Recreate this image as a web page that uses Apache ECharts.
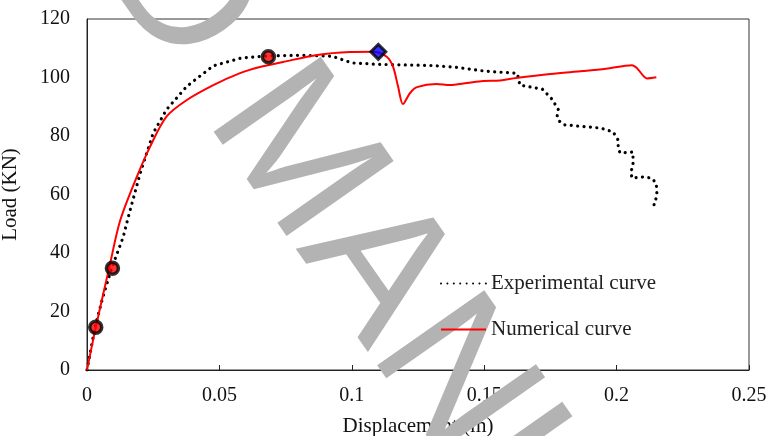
<!DOCTYPE html>
<html>
<head>
<meta charset="utf-8">
<script src="https://cdn.jsdelivr.net/npm/echarts@6/dist/echarts.min.js"></script>
<style>
  html, body { margin: 0; padding: 0; background: #fff; }
  #chart { width: 769px; height: 436px; }
</style>
</head>
<body>
<div id="chart"></div>
<script>
// Load–displacement response: test record vs. finite element model
const xTicks = [0, 0.05, 0.1, 0.15, 0.2, 0.25];
const yTicks = [0, 20, 40, 60, 80, 100, 120];

const expDisp = [0, 0.003, 0.006, 0.0093, 0.0137, 0.0155, 0.020, 0.025, 0.030, 0.0377, 0.0477, 0.058, 0.0685,
  0.08, 0.0925, 0.1, 0.11, 0.13, 0.14, 0.15, 0.1625, 0.1635, 0.172, 0.1756, 0.178, 0.1775, 0.1787, 0.1805,
  0.194, 0.1987, 0.2006, 0.2006, 0.2013, 0.2062, 0.2062, 0.2062, 0.2054, 0.2058, 0.21, 0.2133, 0.2149,
  0.2152, 0.2152, 0.214, 0.2145];
const expLoad = [0, 14.5, 25, 34.8, 45.5, 52, 67, 81, 89, 97, 104, 106.6, 107.4,
  107.6, 107.3, 105, 104.5, 104.1, 103.4, 102.2, 101.4, 97.4, 96, 92.6, 89, 86.5, 84.7, 83.8,
  82.7, 81.4, 78.6, 75.9, 74.2, 74.5, 72.5, 70, 67.7, 65.6, 66, 65.6, 63.9,
  61.5, 59.1, 57.2, 55];

const numDisp = [0, 0.0033, 0.0084, 0.0125, 0.0188, 0.0238, 0.030, 0.0377, 0.0477, 0.0578, 0.0653, 0.074,
  0.0869, 0.0993, 0.108, 0.1133, 0.1156, 0.1175, 0.1193, 0.122, 0.1246, 0.132, 0.137, 0.1435, 0.1496,
  0.156, 0.162, 0.175, 0.1873, 0.196, 0.2058, 0.2077, 0.2115, 0.215];
const numLoad = [0, 14.5, 35, 51, 66, 76.3, 86.6, 92.3, 97.4, 101.5, 103.6, 105.3,
  107.7, 108.7, 108.8, 107, 103.6, 96.8, 90.9, 94.7, 96.7, 97.8, 97.4, 98.1, 98.8,
  99, 99.8, 101.2, 102.2, 103, 104.2, 103.2, 99.7, 100.1];

// highlighted states on the curves
const circleDisp = [0.0033, 0.0096, 0.0685];
const circleLoad = [14.6, 34.8, 107.1];
const peakDisp = [0.110];
const peakLoad = [108.8];

const zip = (a, b) => a.map((v, i) => [v, b[i]]);
const serif = '"Liberation Serif", "Times New Roman", serif';

const chart = echarts.init(document.getElementById('chart'), null, { renderer: 'canvas' });
chart.setOption({
  animation: false,
  backgroundColor: '#fff',
  grid: { left: 87, right: 20, top: 19, bottom: 66, show: true, borderColor: '#333', borderWidth: 1,
    containLabel: false, outerBoundsMode: 'none' },
  xAxis: {
    type: 'value', min: xTicks[0], max: xTicks[xTicks.length - 1], interval: 0.05,
    name: 'Displacement (m)', nameLocation: 'middle', nameGap: 46,
    nameTextStyle: { fontFamily: serif, fontSize: 21, color: '#111' },
    axisLine: { lineStyle: { color: '#222', width: 1 } },
    axisTick: { inside: true, length: 5, lineStyle: { color: '#222' } },
    axisLabel: { fontFamily: serif, fontSize: 20, color: '#111', margin: 16,
      formatter: v => xTicks.includes(+v.toFixed(2)) ? String(+v.toFixed(2)) : '' },
    splitLine: { show: false }
  },
  yAxis: {
    type: 'value', min: yTicks[0], max: yTicks[yTicks.length - 1], interval: 20,
    name: 'Load (KN)', nameLocation: 'middle', nameGap: 66, nameRotate: 90,
    nameTextStyle: { fontFamily: serif, fontSize: 21, color: '#111' },
    axisLine: { show: true, lineStyle: { color: '#222', width: 1 } },
    axisTick: { show: false },
    axisLabel: { fontFamily: serif, fontSize: 20, color: '#111', margin: 17 },
    splitLine: { show: false }
  },
  legend: {
    orient: 'vertical', left: 435, top: 268, itemWidth: 45, itemHeight: 14, itemGap: 25,
    textStyle: { fontFamily: serif, fontSize: 21, color: '#222' },
    itemStyle: { opacity: 0 },
    data: ['Experimental curve', 'Numerical curve']
  },
  graphic: [{
    type: 'text', z: 1, zlevel: 0, silent: true,
    x: 296, y: 158, rotation: -55 * Math.PI / 180,
    style: {
      text: 'ACCEPTED MANUSCRIPT', fill: '#b3b3b3',
      font: '190px "Liberation Sans", Arial, sans-serif',
      align: 'center', verticalAlign: 'middle'
    }
  }],
  series: [
    {
      name: 'Experimental curve', type: 'line', data: zip(expDisp, expLoad), z: 3,
      symbol: 'none', smooth: false,
      lineStyle: { color: '#000', width: 3.2, type: [0.01, 6.4], cap: 'round' },
      itemStyle: { color: '#000' }
    },
    {
      name: 'Numerical curve', type: 'line', data: zip(numDisp, numLoad), z: 4,
      symbol: 'none', smooth: 0.3,
      lineStyle: { color: '#ff0000', width: 2 },
      itemStyle: { color: '#ff0000' }
    },
    {
      name: 'states', type: 'scatter', data: zip(circleDisp, circleLoad), z: 5,
      symbol: 'circle', symbolSize: 12,
      itemStyle: { color: '#ff0000', borderColor: '#000', borderWidth: 3.5 }
    },
    {
      name: 'peak', type: 'scatter', data: zip(peakDisp, peakLoad), z: 5,
      symbol: 'diamond', symbolSize: [15, 15],
      itemStyle: { color: '#0000ff', borderColor: '#000', borderWidth: 3 }
    }
  ]
});
</script>
</body>
</html>
